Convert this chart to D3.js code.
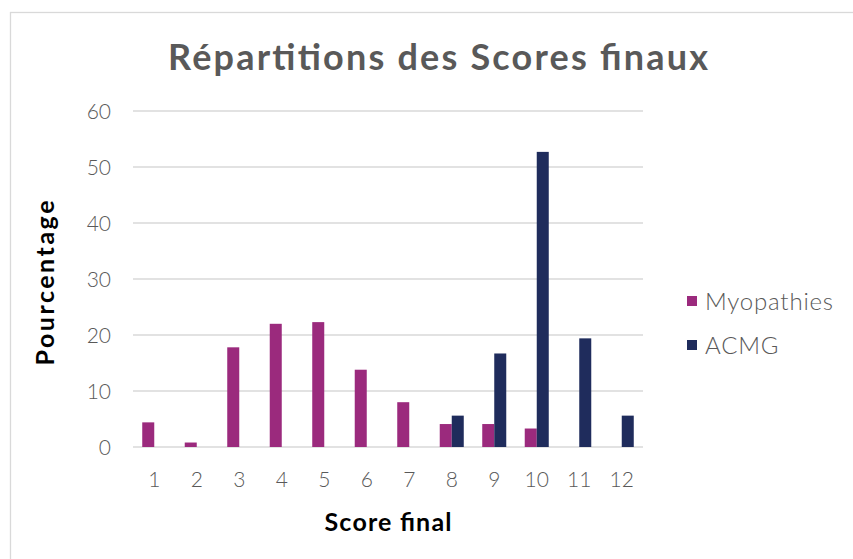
<!DOCTYPE html>
<html>
<head>
<meta charset="utf-8">
<script src="https://cdn.jsdelivr.net/npm/d3@7"></script>
<style>
  body { margin: 0; background: #fff; }
</style>
</head>
<body>
<div id="chart"></div>
<script>
const categories = ["1", "2", "3", "4", "5", "6", "7", "8", "9", "10", "11", "12"];
const seriesNames = ["Myopathies", "ACMG"];
const myopathies = [4.4, 0.8, 17.8, 22.0, 22.3, 13.8, 8.0, 4.1, 4.1, 3.3, 0, 0];
const acmg = [0, 0, 0, 0, 0, 0, 0, 5.6, 16.7, 52.7, 19.4, 5.6];
const yTicks = [0, 10, 20, 30, 40, 50, 60];
const colors = ["#9b2a7d", "#1f2c5c"];

const width = 853, height = 559;
const margin = { top: 111, right: 210, bottom: 112, left: 133 };
const labelFont = "'Century Gothic', 'Lato', 'DejaVu Sans', sans-serif";

const svg = d3.select("#chart").append("svg")
    .attr("width", width)
    .attr("height", height);

// Outer chart border (light grey frame)
svg.append("rect")
    .attr("x", 10.5).attr("y", 12.5)
    .attr("width", width).attr("height", height)
    .attr("fill", "none")
    .attr("stroke", "#d9d9d9")
    .attr("stroke-width", 1.3);

const x0 = d3.scaleBand()
    .domain(categories)
    .range([margin.left, width - margin.right])
    .paddingInner(0.435)
    .paddingOuter(0.2175);

const x1 = d3.scaleBand()
    .domain(seriesNames)
    .range([0, x0.bandwidth()]);

const y = d3.scaleLinear()
    .domain([0, 60])
    .range([height - margin.bottom, margin.top]);

// Gridlines
svg.append("g")
  .selectAll("line")
  .data(yTicks)
  .enter().append("line")
    .attr("x1", margin.left)
    .attr("x2", width - margin.right)
    .attr("y1", d => y(d))
    .attr("y2", d => y(d))
    .attr("stroke", "#d9d9d9")
    .attr("stroke-width", 1.3);

// Y tick labels
svg.append("g")
  .selectAll("text")
  .data(yTicks)
  .enter().append("text")
    .attr("x", margin.left - 22)
    .attr("y", d => y(d))
    .attr("dy", "0.36em")
    .attr("text-anchor", "end")
    .style("font", `300 21px ${labelFont}`)
    .attr("fill", "#595959")
    .text(d => d);

// Bars
const rows = categories.map((c, i) => ({ cat: c, values: [myopathies[i], acmg[i]] }));
const group = svg.append("g")
  .selectAll("g")
  .data(rows)
  .enter().append("g")
    .attr("transform", d => `translate(${x0(d.cat)},0)`);

group.selectAll("rect")
  .data(d => d.values.map((v, j) => ({ name: seriesNames[j], value: v, j: j })))
  .enter().append("rect")
    .filter(d => d.value > 0)
    .attr("x", d => x1(d.name))
    .attr("y", d => y(d.value))
    .attr("width", x1.bandwidth())
    .attr("height", d => y(0) - y(d.value))
    .attr("fill", d => colors[d.j]);

// X tick labels
svg.append("g")
  .selectAll("text")
  .data(categories)
  .enter().append("text")
    .attr("x", d => x0(d) + x0.bandwidth() / 2)
    .attr("y", height - margin.bottom + 40)
    .attr("text-anchor", "middle")
    .style("font", `300 21px ${labelFont}`)
    .attr("fill", "#595959")
    .text(d => d);

// Title
svg.append("text")
    .attr("x", 438)
    .attr("y", 70)
    .attr("text-anchor", "middle")
    .attr("textLength", 540)
    .style("font", `bold 36px ${labelFont}`)
    .attr("fill", "#595959")
    .text("Répartitions des Scores finaux");

// Axis titles
svg.append("text")
    .attr("x", (margin.left + width - margin.right) / 2)
    .attr("y", 531)
    .attr("text-anchor", "middle")
    .attr("textLength", 127)
    .style("font", `bold 25px ${labelFont}`)
    .attr("fill", "#000")
    .text("Score final");

svg.append("text")
    .attr("transform", `translate(54,${(margin.top + height - margin.bottom) / 2 + 4}) rotate(-90)`)
    .attr("text-anchor", "middle")
    .attr("textLength", 165)
    .style("font", `bold 25px ${labelFont}`)
    .attr("fill", "#000")
    .text("Pourcentage");

// Legend
const legend = svg.append("g")
  .selectAll("g")
  .data(seriesNames)
  .enter().append("g")
    .attr("transform", (d, i) => `translate(687,${301 + i * 44})`);

legend.append("rect")
    .attr("x", 0).attr("y", -5)
    .attr("width", 10).attr("height", 10)
    .attr("fill", (d, i) => colors[i]);

legend.append("text")
    .attr("x", 18)
    .attr("dy", "0.36em")
    .style("font", `300 24px ${labelFont}`)
    .style("letter-spacing", "0.8px")
    .attr("fill", "#595959")
    .text(d => d);
</script>
</body>
</html>
